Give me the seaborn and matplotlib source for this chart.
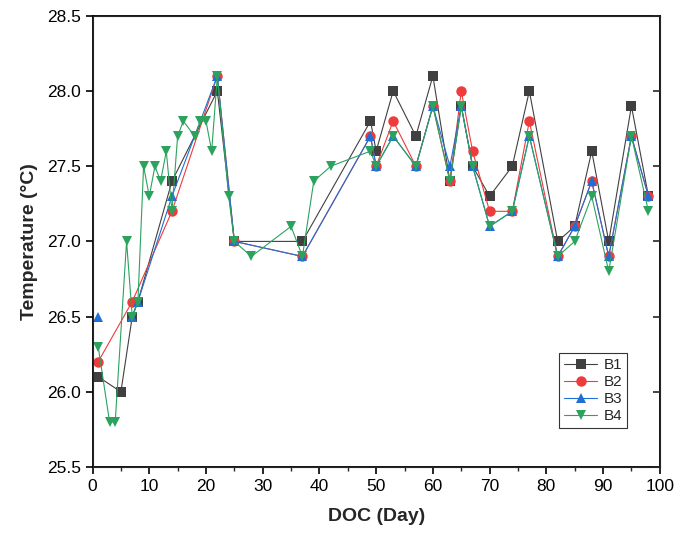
import matplotlib
matplotlib.use("Agg")
import matplotlib.pyplot as plt
import seaborn as sns
import pandas as pd

# sampling days and temperatures
days_b1 = [1, 5, 7, 8, 14, 22, 25, 37, 49, 50, 53, 57, 60, 63, 65, 67, 70, 74, 77, 82, 85, 88, 91, 95, 98]
temp_b1 = [26.1, 26.0, 26.5, 26.6, 27.4, 28.0, 27.0, 27.0, 27.8, 27.6, 28.0, 27.7, 28.1, 27.4, 27.9, 27.5,
           27.3, 27.5, 28.0, 27.0, 27.1, 27.6, 27.0, 27.9, 27.3]

days_b2 = [1, 7, 14, 22, 25, 37, 49, 50, 53, 57, 60, 63, 65, 67, 70, 74, 77, 82, 85, 88, 91, 95, 98]
temp_b2 = [26.2, 26.6, 27.2, 28.1, 27.0, 26.9, 27.7, 27.5, 27.8, 27.5, 27.9, 27.4, 28.0, 27.6, 27.2, 27.2,
           27.8, 26.9, 27.1, 27.4, 26.9, 27.7, 27.3]

days_b3 = [1, 7, 8, 14, 22, 25, 37, 49, 50, 53, 57, 60, 63, 65, 67, 70, 74, 77, 82, 85, 88, 91, 95, 98]
temp_b3 = [26.5, 26.5, 26.6, 27.3, 28.1, 27.0, 26.9, 27.7, 27.5, 27.7, 27.5, 27.9, 27.5, 27.9, 27.5, 27.1,
           27.2, 27.7, 26.9, 27.1, 27.4, 26.9, 27.7, 27.3]
# B3 has no connecting line between its first reading and the next one
segment_b3 = [0] + [1] * (len(days_b3) - 1)

days_b4 = [1, 3, 4, 6, 7, 8, 9, 10, 11, 12, 13, 14, 15, 16, 18, 19, 20, 21, 22, 24, 25, 28, 35, 37, 39, 42,
           49, 50, 53, 57, 60, 63, 65, 67, 70, 74, 77, 82, 85, 88, 91, 95, 98]
temp_b4 = [26.3, 25.8, 25.8, 27.0, 26.5, 26.6, 27.5, 27.3, 27.5, 27.4, 27.6, 27.2, 27.7, 27.8, 27.7, 27.8,
           27.8, 27.6, 28.1, 27.3, 27.0, 26.9, 27.1, 26.9, 27.4, 27.5, 27.6, 27.5, 27.7, 27.5, 27.9, 27.4,
           27.9, 27.5, 27.1, 27.2, 27.7, 26.9, 27.0, 27.3, 26.8, 27.7, 27.2]

series = [("B1", days_b1, temp_b1, None), ("B2", days_b2, temp_b2, None),
          ("B3", days_b3, temp_b3, segment_b3), ("B4", days_b4, temp_b4, None)]
colors = {"B1": "#404040", "B2": "#ee3b3b", "B3": "#1f6fd6", "B4": "#2ca25f"}
markers = {"B1": "s", "B2": "o", "B3": "^", "B4": "v"}

sns.set_style("white")
plt.rcParams["font.family"] = ["Liberation Sans", "DejaVu Sans"]

fig = plt.figure(figsize=(6.88, 5.44), dpi=100)
ax = fig.add_axes([0.1345, 0.1415, 0.8245, 0.8295])

for name, d, t, seg in series:
    df = pd.DataFrame({"DOC": d, "Temp": t})
    if seg is None:
        sns.lineplot(data=df, x="DOC", y="Temp", ax=ax, color=colors[name], marker=markers[name],
                     markersize=7.5, markeredgewidth=0, linewidth=0.8, label=name, sort=False)
    else:
        df["seg"] = seg
        sns.lineplot(data=df, x="DOC", y="Temp", units="seg", estimator=None, ax=ax,
                     color=colors[name], marker=markers[name], markersize=7.5,
                     markeredgewidth=0, linewidth=0.8, sort=False)
        # legend entry drawn with same style
        ax.plot([], [], color=colors[name], marker=markers[name], markersize=7.5,
                markeredgewidth=0, linewidth=0.8, label=name)

ax.set_xlim(0, 100)
ax.set_ylim(25.5, 28.5)
ax.set_xticks(range(0, 101, 10))
ax.set_xticks(range(5, 100, 10), minor=True)
yt = [25.5, 26.0, 26.5, 27.0, 27.5, 28.0, 28.5]
ax.set_yticks(yt)
ax.set_yticklabels([f"{v:.1f}" for v in yt])
ax.tick_params(axis="both", which="major", direction="out", length=5, width=1.2,
               labelsize=12.5, bottom=True, left=True, colors="black")
ax.tick_params(axis="x", which="minor", direction="out", length=3, width=1.0, bottom=True)
for s in ax.spines.values():
    s.set_linewidth(1.3)
    s.set_color("black")

# inward ticks on the right frame
ax2 = ax.twinx()
ax2.set_ylim(25.5, 28.5)
ax2.set_yticks(yt)
ax2.tick_params(axis="y", direction="in", length=5, width=1.2, right=True, labelright=False)
ax2.grid(False)

ax.set_xlabel("DOC (Day)", fontsize=14, fontweight="bold", labelpad=10)
ax.set_ylabel("Temperature (°C)", fontsize=14, fontweight="bold", labelpad=6)

# keep legend order B1..B4
handles, labels = ax.get_legend_handles_labels()
order = sorted(range(len(labels)), key=lambda i: labels[i])
leg = ax.legend([handles[i] for i in order], [labels[i] for i in order],
                loc="lower right", bbox_to_anchor=(0.955, 0.07), fontsize=11, frameon=True,
                fancybox=False, edgecolor="black", handlelength=2.2, borderpad=0.3,
                labelspacing=0.2, handletextpad=0.4)
leg.get_frame().set_linewidth(0.8)

fig.savefig("out.png", dpi=100)
